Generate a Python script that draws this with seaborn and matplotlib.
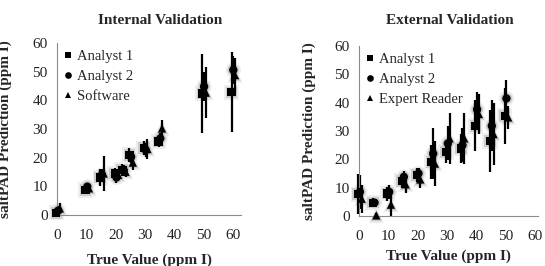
import pandas as pd
import matplotlib.pyplot as plt
import seaborn as sns

sns.set_theme(style='white')
plt.rcParams['font.family'] = ['Liberation Serif', 'DejaVu Serif']

# ---- Internal validation ----
int_true = [0, 10, 15, 20, 22.5, 25, 30, 35, 50, 60]
int_a1 = [0.8, 8.7, 13.1, 14.5, 15.7, 20.9, 23.3, 25.6, 42.4, 42.8]
int_a1_err = [1.5, 1.5, 3.0, 2.0, 2.0, 2.5, 2.5, 2.0, 13.7, 14.0]
int_a2 = [1.5, 9.9, 14.0, 13.1, 15.5, 20.3, 22.7, 26.7, 44.8, 50.6]
int_a2_err = [1.5, 1.0, 2.0, 2.0, 2.0, 2.0, 2.5, 2.0, 5.0, 5.0]
int_sw = [2.3, 9.3, 14.5, 14.0, 15.1, 18.3, 23.0, 30.2, 42.7, 48.8]
int_sw_err = [2.0, 1.5, 6.0, 2.0, 2.0, 2.5, 3.5, 3.0, 9.0, 6.0]

# ---- External validation ----
ext_true = [0, 5, 10, 15, 20, 25, 30, 35, 40, 45, 50]
ext_a1 = [7.7, 4.7, 7.9, 12.4, 14.4, 19.1, 22.6, 23.8, 31.8, 26.5, 35.3]
ext_a1_err = [7.0, 1.5, 2.5, 2.5, 2.5, 6.0, 4.0, 5.0, 9.0, 11.0, 10.0]
ext_a2 = [8.5, 4.7, 8.5, 13.8, 15.0, 22.0, 25.6, 25.0, 37.6, 31.8, 41.5]
ext_a2_err = [6.0, 1.0, 2.5, 2.0, 2.0, 9.0, 6.0, 6.0, 6.0, 9.0, 6.5]
ext_er = [6.1, 0.2, 4.0, 11.2, 12.9, 18.5, 27.4, 27.4, 36.0, 28.9, 34.8]
ext_er_err = [5.0, 1.0, 4.0, 3.0, 3.0, 8.0, 9.0, 9.0, 7.0, 11.0, 4.0]

markers = ['s', 'o', '^']
offsets = [-0.4, 0.2, 0.8]


def build(true, series):
    rows = []
    for k, (name, vals, errs) in enumerate(series):
        for t, v, e in zip(true, vals, errs):
            rows.append({'x': t + offsets[k], 'y': v, 'err': e, 'series': name})
    return pd.DataFrame(rows)


def panel(ax, df, names, xmax):
    mk = dict(zip(names, markers))
    # soft grey glow behind the markers
    sns.scatterplot(data=df, x='x', y='y', style='series', markers=mk, s=120,
                    color='#eeeeee', linewidth=0, legend=False, ax=ax, zorder=1, clip_on=False)
    sns.scatterplot(data=df, x='x', y='y', style='series', markers=mk, s=70,
                    color='#cccccc', linewidth=0, legend=False, ax=ax, zorder=1, clip_on=False)
    ax.errorbar(df['x'], df['y'], yerr=df['err'], fmt='none', ecolor='black',
                elinewidth=1.6, capsize=0, zorder=2, clip_on=False)
    sns.scatterplot(data=df, x='x', y='y', style='series', markers=mk, s=36,
                    color='black', linewidth=0, ax=ax, zorder=3, clip_on=False)
    ax.set_xlim(0, xmax)
    ax.set_ylim(0, 60)
    ax.set_xticks(range(0, 61, 10))
    ax.set_yticks(range(0, 61, 10))
    for s in ['top', 'right']:
        ax.spines[s].set_visible(False)
    for s in ['left', 'bottom']:
        ax.spines[s].set_color('#8a8a8a')
        ax.spines[s].set_linewidth(0.8)
    ax.tick_params(axis='both', length=0, labelsize=11, colors='#222222')
    ax.tick_params(axis='x', pad=10)
    ax.tick_params(axis='y', pad=7)
    ax.set_xlabel('True Value (ppm I)', fontsize=11, fontweight='bold')
    ax.set_ylabel('saltPAD Prediction (ppm I)', fontsize=11, fontweight='bold')
    ax.legend(loc='upper left', bbox_to_anchor=(0.0, 0.995), frameon=False,
              fontsize=10.5, handlelength=0.6, handletextpad=0.35,
              labelspacing=0.48, borderaxespad=0, markerscale=0.8)


fig = plt.figure(figsize=(5.45, 2.66), dpi=100)
ax1 = fig.add_axes([0.1055, 0.1917, 0.3376, 0.6466])
ax2 = fig.add_axes([0.6593, 0.188, 0.328, 0.639])

df_int = build(int_true, [('Analyst 1', int_a1, int_a1_err),
                          ('Analyst 2', int_a2, int_a2_err),
                          ('Software', int_sw, int_sw_err)])
df_ext = build(ext_true, [('Analyst 1', ext_a1, ext_a1_err),
                          ('Analyst 2', ext_a2, ext_a2_err),
                          ('Expert Reader', ext_er, ext_er_err)])

panel(ax1, df_int, ['Analyst 1', 'Analyst 2', 'Software'], 63)
panel(ax2, df_ext, ['Analyst 1', 'Analyst 2', 'Expert Reader'], 61)

ax1.xaxis.set_label_coords(0.5, -0.222)
ax2.xaxis.set_label_coords(0.5, -0.2)
ax1.yaxis.set_label_coords(-0.245, 0.5)
ax2.yaxis.set_label_coords(-0.24, 0.5)

fig.text(160 / 545, 1 - 20 / 266, 'Internal Validation', ha='center', va='center',
         fontsize=11, fontweight='bold')
fig.text(450 / 545, 1 - 20 / 266, 'External Validation', ha='center', va='center',
         fontsize=11, fontweight='bold')

fig.savefig('out.png', dpi=100)
